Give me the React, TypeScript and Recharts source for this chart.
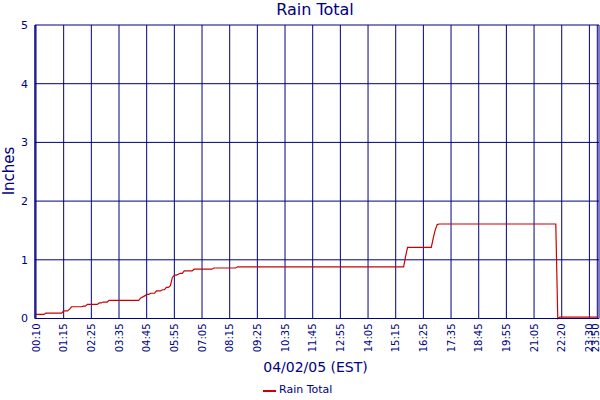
import React from 'react';
import { LineChart, Line, XAxis, YAxis, CartesianGrid, Legend } from 'recharts';

// 5-minute sample slots (position along the category-like time axis) and cumulative rain (inches)
const sampleIndex = [0, 4, 5, 13, 14, 16, 17, 18, 23, 24, 25, 26, 31, 32, 33, 34, 36, 37, 52, 53, 55, 56, 57, 58, 60, 61, 63, 64, 65, 66, 67, 68, 69, 70, 71, 72, 73, 74, 75, 79, 80, 89, 90, 101, 102, 186, 187, 188, 200, 201, 202, 203, 204, 263, 264, 265, 284];
const rainInches = [0.07, 0.07, 0.09, 0.09, 0.13, 0.13, 0.16, 0.20, 0.20, 0.21, 0.21, 0.24, 0.24, 0.265, 0.265, 0.28, 0.28, 0.31, 0.31, 0.35, 0.385, 0.41, 0.41, 0.43, 0.43, 0.47, 0.47, 0.49, 0.49, 0.53, 0.53, 0.56, 0.70, 0.74, 0.74, 0.755, 0.77, 0.77, 0.81, 0.81, 0.84, 0.84, 0.86, 0.86, 0.88, 0.88, 1.06, 1.21, 1.21, 1.37, 1.51, 1.60, 1.61, 1.61, 0.0, 0.025, 0.025];

const tickIndex = [0, 14, 28, 42, 56, 70, 84, 98, 112, 126, 140, 154, 168, 182, 196, 210, 224, 238, 252, 266, 280, 284];
const tickLabels = ['00:10', '01:15', '02:25', '03:35', '04:45', '05:55', '07:05', '08:15', '09:25', '10:35', '11:45', '12:55', '14:05', '15:15', '16:25', '17:35', '18:45', '19:55', '21:05', '22:20', '23:30', '23:50'];
const yTicks = [0, 1, 2, 3, 4, 5];

const NAVY = '#000080';
const RED = '#CC0000';
const FONT = '"DejaVu Sans", Verdana, sans-serif';

const data = sampleIndex.map((i, k) => ({ i, rain: rainInches[k] }));

const XTick = (props: any) => {
  const { x, y, payload } = props;
  const k = tickIndex.indexOf(payload.value);
  const label = k >= 0 ? tickLabels[k] : String(payload.value);
  const base = Math.min(3.6, 599.3 - x);
  return (
    <g transform={`translate(${x},${y}) rotate(-90)`}>
      <text x={0} y={base} textAnchor="end" fill={NAVY} fontSize={10} fontFamily={FONT}>
        {label}
      </text>
    </g>
  );
};

const YLabel = () => (
  <text x={14} y={171} transform="rotate(-90 14 171)" textAnchor="middle" fill={NAVY} fontSize={15} fontFamily={FONT}>
    Inches
  </text>
);

const XLabel = () => (
  <text x={315.5} y={371.5} textAnchor="middle" fill={NAVY} fontSize={14} fontFamily={FONT}>
    04/02/05 (EST)
  </text>
);

const LegendContent = () => (
  <div style={{ position: 'relative', width: 600, height: 20 }}>
    <div style={{ position: 'absolute', left: 263, top: 10, width: 13, height: 2, background: RED }} />
    <span style={{ position: 'absolute', left: 279, top: 3, fontSize: 11, lineHeight: '13px', color: NAVY, fontFamily: FONT, whiteSpace: 'nowrap' }}>
      Rain Total
    </span>
  </div>
);

export default function App() {
  return (
    <div style={{ position: 'absolute', left: 0, top: 0, width: 600, height: 400, background: '#fff', fontFamily: FONT }}>
      <div style={{ position: 'absolute', left: 30, top: 2, width: 570, textAlign: 'center', fontSize: 16, lineHeight: '16px', color: NAVY, fontFamily: FONT }}>
        Rain Total
      </div>
      <LineChart width={600} height={400} data={data} margin={{ top: 25, right: 1, bottom: 0, left: 0 }} style={{ fontFamily: FONT }}>
        <CartesianGrid stroke={NAVY} strokeWidth={1} />
        <XAxis
          dataKey="i"
          type="number"
          domain={[0, 284]}
          ticks={tickIndex}
          interval={0}
          padding={{ left: 1, right: 1.7 }}
          height={61.5}
          tickLine={false}
          tickSize={0}
          tickMargin={5}
          tick={<XTick />}
          axisLine={{ stroke: NAVY }}
          label={{ content: <XLabel /> }}
        />
        <YAxis
          domain={[0, 5]}
          ticks={yTicks}
          width={35}
          tickLine={false}
          tickSize={6}
          tickMargin={1}
          tick={{ fill: NAVY, fontSize: 11, fontFamily: FONT }}
          axisLine={{ stroke: NAVY }}
          label={{ content: <YLabel /> }}
        />
        <YAxis yAxisId="frame" orientation="right" domain={[0, 5]} width={0} tick={false} tickLine={false} axisLine={{ stroke: NAVY }} />
        <Legend
          verticalAlign="bottom"
          height={20}
          content={<LegendContent />}
          wrapperStyle={{ left: 0, bottom: 0, width: 600, height: 20 }}
        />
        <Line
          type="linear"
          dataKey="rain"
          name="Rain Total"
          stroke={RED}
          strokeWidth={1.2}
          dot={false}
          activeDot={false}
          isAnimationActive={false}
        />
      </LineChart>
    </div>
  );
}
